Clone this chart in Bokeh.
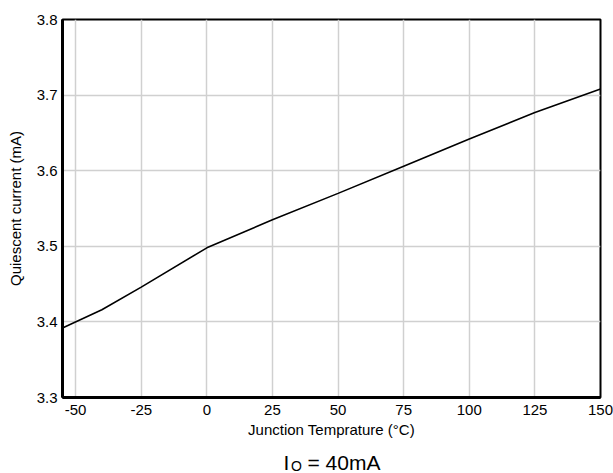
from bokeh.plotting import figure
from bokeh.layouts import column
from bokeh.models import FixedTicker, Range1d, NumeralTickFormatter
from bokeh.core.properties import value
from bokeh.embed import file_html
from bokeh.resources import INLINE

# Quiescent current vs junction temperature at IO = 40 mA
temperature_c = [-55, -40, -25, 0, 25, 50, 75, 100, 125, 150]
quiescent_ma = [3.392, 3.416, 3.446, 3.498, 3.535, 3.570, 3.606, 3.642, 3.677, 3.708]

x_ticks = [-50, -25, 0, 25, 50, 75, 100, 125, 150]
y_ticks = [3.3, 3.4, 3.5, 3.6, 3.7, 3.8]

FONT = "Liberation Sans"
WIDTH = 613
MAIN_H = 440
CAP_H = 33
LEFT, RIGHT = 62, 13

p = figure(
    width=WIDTH, height=MAIN_H,
    x_range=Range1d(-55, 150), y_range=Range1d(3.3, 3.8),
    output_backend="svg", toolbar_location=None,
    min_border_left=LEFT, min_border_right=RIGHT,
    min_border_top=19, min_border_bottom=MAIN_H - 397,
    background_fill_color="white", border_fill_color="white",
)

p.line(temperature_c, quiescent_ma, line_color="black", line_width=1.6)

p.xaxis.ticker = FixedTicker(ticks=x_ticks)
p.yaxis.ticker = FixedTicker(ticks=y_ticks)
p.xaxis.formatter = NumeralTickFormatter(format="0")
p.yaxis.formatter = NumeralTickFormatter(format="0.0")

p.xaxis.axis_label = "Junction Temprature (°C)"
p.yaxis.axis_label = "Quiescent current (mA)"

for ax in (p.xaxis, p.yaxis):
    ax.major_tick_line_color = None
    ax.minor_tick_line_color = None
    ax.major_tick_out = 0
    ax.major_tick_in = 0
    ax.axis_line_color = "black"
    ax.axis_line_width = 3
    ax.major_label_text_font = FONT
    ax.major_label_text_font_size = "15px"
    ax.major_label_text_color = "black"
    ax.axis_label_text_font = FONT
    ax.axis_label_text_font_size = "15px"
    ax.axis_label_text_font_style = "normal"
    ax.axis_label_text_color = "black"

p.xaxis.major_label_standoff = 7
p.xaxis.axis_label_standoff = 3
p.yaxis.major_label_standoff = 5
p.yaxis.axis_label_standoff = 10

p.xgrid.grid_line_color = "#d0d0d0"
p.ygrid.grid_line_color = "#d0d0d0"
p.xgrid.grid_line_width = 1.5
p.ygrid.grid_line_width = 1.5

p.outline_line_color = "black"
p.outline_line_width = 2
p.outline_line_alpha = 1.0

# Caption strip under the chart: I_O = 40mA, subscript as a smaller text run.
# Its frame spans the same columns as the main frame, and its x range is in
# page pixels so the runs can be placed by pixel column.
cap = figure(
    title=None,
    width=WIDTH, height=CAP_H,
    x_range=Range1d(LEFT, WIDTH - RIGHT), y_range=Range1d(0, CAP_H),
    x_axis_type=None, y_axis_type=None,
    output_backend="svg", toolbar_location=None,
    min_border_left=LEFT, min_border_right=RIGHT,
    min_border_top=0, min_border_bottom=0,
    outline_line_color=None,
    background_fill_color="white", border_fill_color="white",
)
cap.grid.visible = False

base_y = 11
cap.text(x=[283], y=[base_y], text=["I"], text_font=value(FONT),
         text_font_size="21px", text_color="black",
         text_baseline="alphabetic", text_align="left")
cap.text(x=[290.5], y=[base_y - 3.5], text=["O"], text_font=value(FONT),
         text_font_size="14px", text_color="black",
         text_baseline="alphabetic", text_align="left")
cap.text(x=[307], y=[base_y], text=["= 40mA"], text_font=value(FONT),
         text_font_size="21px", text_color="black",
         text_baseline="alphabetic", text_align="left")

layout = column(p, cap, spacing=0)

open("out.html", "w").write(file_html(layout, INLINE))
